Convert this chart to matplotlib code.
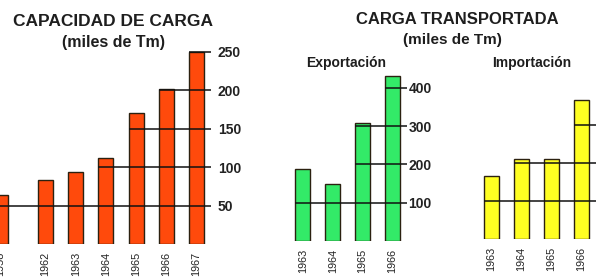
import numpy as np
import matplotlib.pyplot as plt

W, H = 596, 277

# capacidad de carga (miles de Tm)
cap_years = ['1958', '1962', '1963', '1964', '1965', '1966', '1967']
cap_values = [64, 83, 94, 112, 171, 201, 250]
cap_ticks = [50, 100, 150, 200, 250]

# carga transportada (miles de Tm)
exp_years = ['1963', '1964', '1965', '1966']
exp_values = [188, 149, 307, 431]
exp_ticks = [100, 200, 300, 400]

imp_years = ['1963', '1964', '1965', '1966']
imp_values = [166, 209, 210, 364]
imp_ticks = [100, 200, 300]

plt.rcParams['font.family'] = ['Liberation Sans', 'DejaVu Sans']


def px_axes(fig, x0, x1, ybot, ytop):
    # pixel box -> figure fraction
    return fig.add_axes([x0 / W, (H - ybot) / H, (x1 - x0) / W, (ybot - ytop) / H])


def panel(ax, pos, vals, labels, ticks, color, xlim, ylim, pad, show_y=True):
    ax.bar(pos, vals, width=0.5, color=color, edgecolor='#2b2110', linewidth=1.0, zorder=2)
    # grid line starts at first bar reaching the value
    for t in ticks:
        first = next(i for i, v in enumerate(vals) if v >= t - 1)
        ax.hlines(t, pos[first] - 0.25, xlim[1], color='#111111', linewidth=1.1, zorder=3)
    ax.set_xlim(*xlim)
    ax.set_ylim(*ylim)
    ax.set_xticks(pos)
    ax.set_xticklabels(labels, rotation=90, fontsize=7.8, color='#222222')
    ax.yaxis.tick_right()
    ax.set_yticks(ticks)
    if show_y:
        ax.set_yticklabels([str(t) for t in ticks], fontsize=10, fontweight='bold', color='#222222')
    else:
        # scale labels fall outside the picture
        ax.set_yticklabels([])
    ax.tick_params(axis='y', length=0, pad=pad)
    ax.tick_params(axis='x', length=0, pad=5.5)
    for s in ax.spines.values():
        s.set_visible(False)
    ax.patch.set_alpha(0)


fig = plt.figure(figsize=(W / 100, H / 100), dpi=100)

# left panel: gap between first bar and 1962
cap_pos = np.array([-1.5] + list(range(len(cap_years) - 1)), dtype=float)
ax1 = px_axes(fig, 0, 211, 244, 44)
panel(ax1, cap_pos, cap_values, cap_years, cap_ticks, '#ff4a0c',
      (-1.507, 5.48), (0, 200 / 0.769), 5)

ax2 = px_axes(fig, 285, 406.5, 241, 61)
panel(ax2, np.arange(len(exp_years)), exp_values, exp_years, exp_ticks, '#33ea68',
      (-0.595, 3.468), (0, 180 / 0.383), 1.5)

ax3 = px_axes(fig, 475, 612, 239.2, 61)
panel(ax3, np.arange(len(imp_years)), imp_values, imp_years, imp_ticks, '#ffff22',
      (-0.55, 4.017), (0, 178.2 / 0.382), 1.5, show_y=False)


def ptext(x, y, s, **kw):
    fig.text(x / W, 1 - y / H, s, ha='center', va='center', color='#1e1e1e', **kw)


ptext(113, 21, 'CAPACIDAD DE CARGA', fontsize=12.5, fontweight='bold')
ptext(113, 43, '(miles de Tm)', fontsize=11.5, fontweight='bold')
ptext(457, 20, 'CARGA TRANSPORTADA', fontsize=12, fontweight='bold')
ptext(452, 40, '(miles de Tm)', fontsize=11, fontweight='bold')
ptext(346, 63, 'Exportación', fontsize=10, fontweight='bold')
ptext(532, 63, 'Importación', fontsize=10, fontweight='bold')

fig.savefig('out.png', dpi=100)
